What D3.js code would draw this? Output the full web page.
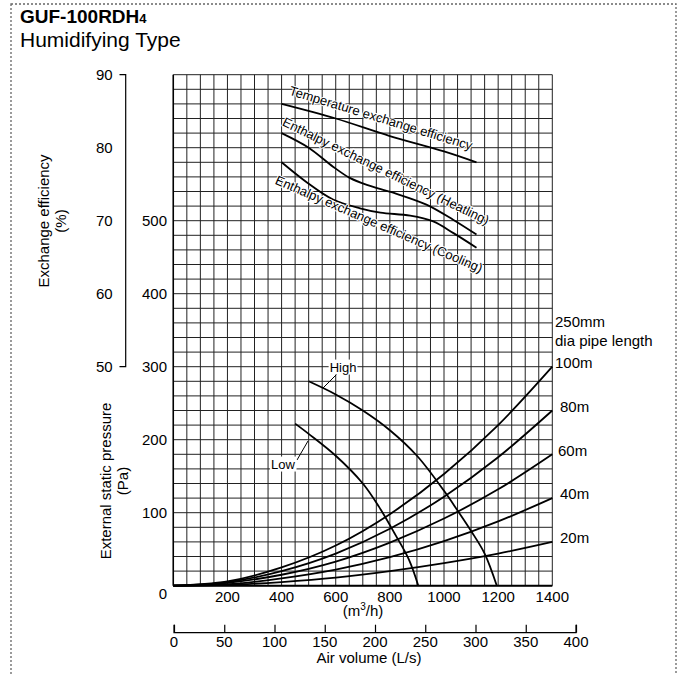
<!DOCTYPE html>
<html><head><meta charset="utf-8">
<script src="https://cdn.jsdelivr.net/npm/d3@7"></script>
<style>
html,body{margin:0;padding:0;background:#fff;}
svg{display:block;font-family:"Liberation Sans",Arial,Helvetica,sans-serif;}
</style></head>
<body><svg id="c" width="685" height="675"></svg>
<script>
// ---------- data ----------
const airTicksM3h = [200,400,600,800,1000,1200,1400];
const airTicksLs = [0,50,100,150,200,250,300,350,400];
const pressureTicks = [100,200,300,400,500];
const effTicks = [50,60,70,80,90];

// pipe resistance curves (m3/h, Pa)
const pipeQ = [0,200,400,600,800,1000,1200,1400];
const pipe100 = [0,6,25,55,98,153,220,300];
const pipe80  = [0,5,20,44,78,122,176,240];
const pipe60  = [0,4,15,33,59,92,132,180];
const pipe40  = [0,2,10,22,39,61,88,120];
const pipe20  = [0,1,5,11,20,31,44,60];
const pipeLabels = ["100m","80m","60m","40m","20m"];

// fan curves (m3/h, Pa)
const highQ = [500,600,700,800,900,1000,1050,1100,1150,1195];
const highP = [280,262,240,213,178,130,103,75,44,0];
const lowQ = [450,500,600,700,760,820,870,905];
const lowP = [222,208,178,140,108,70,36,0];

// efficiency curves (m3/h, %)
const tempQ = [400,600,800,1000,1120];
const tempE = [86,84,81.6,79.5,78];
const heatQ = [400,500,590,650,715,815,935,1035,1120];
const heatE = [82,80,77.4,75.9,74.9,73.8,72.2,70.1,68.1];
const coolQ = [400,495,590,690,765,875,960,1035,1120];
const coolE = [78,75.2,72.9,71.7,71.1,70.7,69.9,68.3,66.3];

// ---------- drawing ----------
const svg = d3.select("#c");
const F = "'Liberation Sans',Arial,sans-serif";

// dotted frame
svg.append("rect").attr("x",11).attr("y",4).attr("width",665).attr("height",690)
  .attr("fill","none").attr("stroke","#666").attr("stroke-width",1.3).attr("stroke-dasharray","2,2");

// title
const t = svg.append("text").attr("x",20).attr("y",23).attr("font-size",19).attr("font-weight","bold").attr("fill","#000");
t.append("tspan").text("GUF-100RDH");
t.append("tspan").attr("font-size",13).text("4");
svg.append("text").attr("x",20).attr("y",47).attr("font-size",21).attr("fill","#000").text("Humidifying Type");

const x = d3.scaleLinear().domain([0,1400]).range([173.3,552.3]);
const yP = d3.scaleLinear().domain([0,700]).range([585.7,74.7]);
const yE = d3.scaleLinear().domain([50,90]).range([yP(300),yP(700)]);
const xL = d3.scaleLinear().domain([0,400]).range([174,576]);

// grid
const g = svg.append("g");
g.selectAll("line.v").data(d3.range(0,1401,50)).join("line")
  .attr("x1",d=>x(d)).attr("x2",d=>x(d)).attr("y1",yP(0)).attr("y2",yP(700))
  .attr("stroke","#222").attr("stroke-width",1);
g.selectAll("line.h").data(d3.range(0,701,20)).join("line")
  .attr("x1",x(0)).attr("x2",x(1400)).attr("y1",d=>yP(d)).attr("y2",d=>yP(d))
  .attr("stroke","#222").attr("stroke-width",1);
svg.append("line").attr("x1",x(0)).attr("x2",x(1400)).attr("y1",yP(0)).attr("y2",yP(0)).attr("stroke","#000").attr("stroke-width",2);
svg.append("line").attr("x1",x(0)).attr("x2",x(0)).attr("y1",yP(0)).attr("y2",yP(700)).attr("stroke","#000").attr("stroke-width",1.5);

// pressure tick labels
svg.selectAll("text.pt").data(pressureTicks).join("text")
  .attr("x",167).attr("y",d=>yP(d)).attr("dy","0.35em").attr("text-anchor","end")
  .attr("font-size",15).text(d=>d);
svg.append("text").attr("x",163).attr("y",594).attr("dy","0.35em").attr("text-anchor","middle").attr("font-size",15).text("0");

// efficiency axis
const effAxis = d3.axisLeft(yE).tickValues(effTicks).tickSize(0).tickPadding(13);
const ea = svg.append("g").attr("transform","translate(125.7,0)").call(effAxis);
ea.select(".domain").remove();
ea.selectAll("text").attr("font-size",15).attr("font-family",F).attr("fill","#000");
svg.append("path").attr("d",`M119.5,${yE(90)}H125.7V${yE(50)}H119.5`).attr("fill","none").attr("stroke","#000").attr("stroke-width",1.2);

// axis titles
function vtitle(cx,cy,lines){
  const tt = svg.append("text").attr("transform",`translate(${cx},${cy}) rotate(-90)`).attr("text-anchor","middle").attr("font-size",15);
  lines.forEach((l,i)=>tt.append("tspan").attr("x",0).attr("dy",i?"1.15em":0).text(l));
}
vtitle(49,221,["Exchange efficiency","(%)"]);
vtitle(111,481,["External static pressure","(Pa)"]);

// x tick labels m3/h
svg.selectAll("text.xt").data(airTicksM3h).join("text")
  .attr("x",d=>x(d)).attr("y",597).attr("dy","0.35em").attr("text-anchor","middle").attr("font-size",15).text(d=>d);
const m = svg.append("text").attr("x",363).attr("y",616).attr("text-anchor","middle").attr("font-size",15);
m.append("tspan").text("(m");
m.append("tspan").attr("font-size",10).attr("dy",-6).text("3");
m.append("tspan").attr("dy",6).text("/h)");

// L/s axis
const lAxis = d3.axisTop(xL).tickValues(airTicksLs).tickSize(8).tickFormat("");
const la = svg.append("g").attr("transform","translate(0,632.7)").call(lAxis);
la.selectAll("path,line").attr("stroke","#000").attr("stroke-width",1.2);
la.select(".domain").attr("d",`M${xL(0)},-8V0H${xL(400)}V-8`);
svg.selectAll("text.lt").data(airTicksLs).join("text")
  .attr("x",d=>xL(d)).attr("y",642).attr("dy","0.35em").attr("text-anchor","middle").attr("font-size",15).text(d=>d);
svg.append("text").attr("x",369).attr("y",663).attr("text-anchor","middle").attr("font-size",15).text("Air volume (L/s)");

// curves
const line = d3.line().curve(d3.curveMonotoneX);
const pipes = [pipe100,pipe80,pipe60,pipe40,pipe20];
pipes.forEach(arr=>{
  svg.append("path").attr("d",line(pipeQ.map((q,i)=>[x(q),yP(arr[i])])))
    .attr("fill","none").attr("stroke","#000").attr("stroke-width",1.8);
});
const fanLine = d3.line().curve(d3.curveCatmullRom);
svg.append("path").attr("d",fanLine(highQ.map((q,i)=>[x(q),yP(highP[i])])))
  .attr("fill","none").attr("stroke","#000").attr("stroke-width",1.8);
svg.append("path").attr("d",fanLine(lowQ.map((q,i)=>[x(q),yP(lowP[i])])))
  .attr("fill","none").attr("stroke","#000").attr("stroke-width",1.8);
[[tempQ,tempE],[heatQ,heatE],[coolQ,coolE]].forEach(([qs,es])=>{
  svg.append("path").attr("d",fanLine(qs.map((q,i)=>[x(q),yE(es[i])])))
    .attr("fill","none").attr("stroke","#000").attr("stroke-width",1.8);
});

// curve labels
function rlabel(cx,cy,ang,txt){
  svg.append("text").attr("transform",`translate(${cx},${cy}) rotate(${ang})`)
    .attr("text-anchor","middle").attr("dy","0.35em").attr("font-size",13)
    .attr("stroke","#fff").attr("stroke-width",2).attr("paint-order","stroke").text(txt);
}
rlabel(381,118,17,"Temperature exchange efficiency");
rlabel(386,171,26,"Enthalpy exchange efficiency (Heatling)");
rlabel(379,224,23.5,"Enthalpy exchange efficiency (Cooling)");

// High/Low leaders
svg.append("line").attr("x1",323).attr("y1",388).attr("x2",337).attr("y2",374).attr("stroke","#000").attr("stroke-width",1);
svg.append("line").attr("x1",297).attr("y1",460).attr("x2",308).attr("y2",441).attr("stroke","#000").attr("stroke-width",1);
function boxlabel(cx,cy,txt){
  const grp = svg.append("g");
  const r = grp.append("rect").attr("fill","#fff");
  const tx = grp.append("text").attr("x",cx).attr("y",cy).attr("dy","0.35em").attr("text-anchor","middle").attr("font-size",13).text(txt);
  const b = tx.node().getBBox();
  r.attr("x",b.x-1).attr("y",b.y).attr("width",b.width+2).attr("height",b.height);
}
boxlabel(343,367,"High");
boxlabel(283,464,"Low");

// right labels
svg.append("text").attr("x",555).attr("y",322).attr("dy","0.35em").attr("font-size",15).text("250mm");
svg.append("text").attr("x",555).attr("y",341).attr("dy","0.35em").attr("font-size",15).text("dia pipe length");
const labelX = [555,560,558,560,560];
pipes.forEach((arr,i)=>{
  svg.append("text").attr("x",labelX[i]).attr("y",yP(arr[arr.length-1])-4).attr("dy","0.35em").attr("font-size",15).text(pipeLabels[i]);
});
</script></body></html>
